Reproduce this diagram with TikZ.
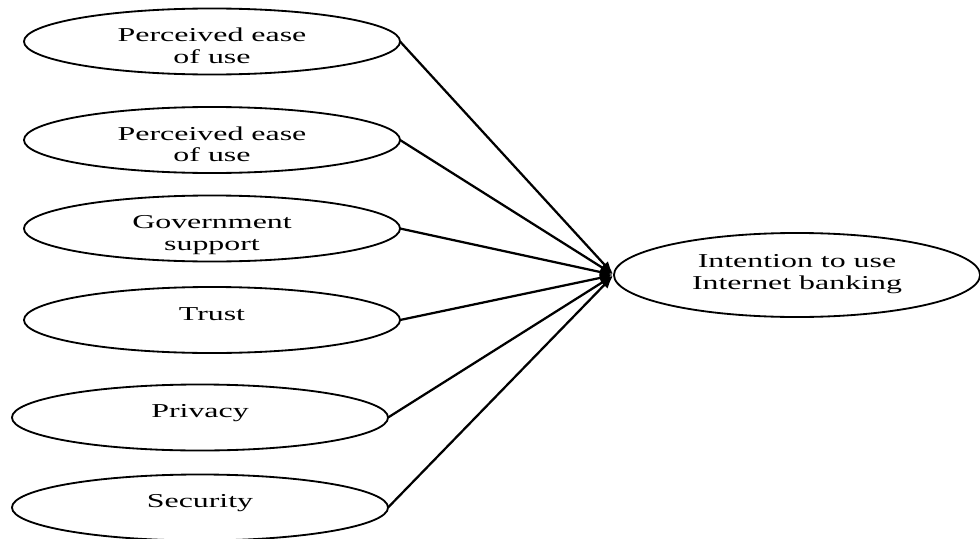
\documentclass[tikz,border=0pt]{standalone}
\usepackage{fontspec}
\setmainfont[FakeStretch=1.62]{Liberation Serif}
\usetikzlibrary{shapes.geometric,arrows.meta}
% centred block of lines whose first baseline is the node's reference point
\newcommand{\ovaltext}[1]{\begin{tabular}[t]{@{}c@{}}#1\end{tabular}}
\begin{document}
\begin{tikzpicture}[x=0.025cm,y=-0.025cm,
  oval/.style={ellipse,draw,line width=1.3pt,inner sep=0pt,outer sep=0pt,
    text height=0pt,text depth=0pt,font=\fontsize{14}{15.5}\selectfont},
  factor/.style={oval,minimum width=9.4cm,minimum height=1.65cm},
  outcome/.style={oval,minimum width=9.15cm,minimum height=2.1cm,text depth=11pt},
  link/.style={line width=1.6pt,-{Latex[length=9pt,width=7pt]},shorten >=1pt}]
\useasboundingbox (0,0) rectangle (980,539);

% predictors
\node[factor] (peou1) at (212,41.5)  {\ovaltext{Perceived ease\\of use}};
\node[factor] (peou2) at (212,140)   {\ovaltext{Perceived ease\\of use}};
\node[factor] (gov)   at (212,228.5) {\ovaltext{Government\\support}};
\node[factor] (trust) at (212,320)   {\ovaltext{Trust}};
\node[factor] (priv)  at (200,417.5) {\ovaltext{Privacy}};
\node[factor] (sec)   at (200,507.5) {\ovaltext{Security}};

% outcome
\node[outcome] (intent) at (797,275) {\ovaltext{Intention to use\\Internet banking}};

% paths
\foreach \src in {peou1,peou2,gov,trust,priv,sec}
  \draw[link] (\src.east) -- (intent.west);
\end{tikzpicture}
\end{document}
